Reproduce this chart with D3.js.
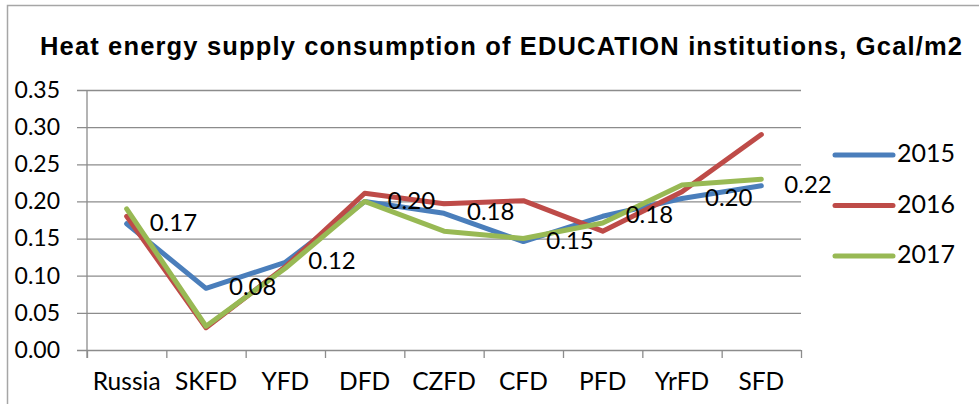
<!DOCTYPE html>
<html>
<head>
<meta charset="utf-8">
<script src="https://cdn.jsdelivr.net/npm/d3@7"></script>
<style>
  body { margin: 0; background: #fff; }
  svg { display: block; }
</style>
</head>
<body>
<svg></svg>
<script>
const width = 979
const height = 404

const categories = ['Russia', 'SKFD', 'YFD', 'DFD', 'CZFD', 'CFD', 'PFD', 'YrFD', 'SFD']
const years = ['2015', '2016', '2017']
const v2015 = [0.17, 0.083, 0.118, 0.20, 0.184, 0.146, 0.18, 0.204, 0.221]
const v2016 = [0.18, 0.03, 0.112, 0.211, 0.197, 0.201, 0.16, 0.213, 0.29]
const v2017 = [0.19, 0.032, 0.11, 0.20, 0.16, 0.15, 0.171, 0.222, 0.23]
const yTicks = [0, 0.05, 0.10, 0.15, 0.20, 0.25, 0.30, 0.35]
const colors = ['#4a7ebb', '#be4b48', '#98b954']

const plotLeft = 87
const plotRight = 801
const plotTop = 90
const plotBottom = 350

let svg = d3.select('svg')
    .attr('width', width)
    .attr('height', height)

// outer frame
svg.append('rect')
    .attr('x', 7.5).attr('y', 5.5)
    .attr('width', width + 10).attr('height', height + 10)
    .attr('fill', 'none')
    .attr('stroke', '#a6a6a6')
    .attr('stroke-width', 1.5)

svg.append('text')
    .attr('x', 501).attr('y', 55)
    .attr('text-anchor', 'middle')
    .attr('font-family', 'Liberation Sans, Arial, sans-serif')
    .attr('font-weight', 'bold')
    .attr('font-size', 25.5)
    .attr('textLength', 922)
    .attr('fill', '#000')
    .text('Heat energy supply consumption  of EDUCATION institutions, Gcal/m2')

let xScale = d3.scaleBand()
    .domain(categories)
    .range([plotLeft, plotRight])

let xEdge = d3.scaleLinear()
    .domain([0, categories.length])
    .range([plotLeft, plotRight])

let yScale = d3.scaleLinear()
    .domain([0, 0.35])
    .range([plotBottom, plotTop])

let xc = c => xScale(c) + xScale.bandwidth() / 2

// y gridlines + labels
let yAxis = svg.append('g')
    .attr('transform', 'translate(77,0)')
    .call(d3.axisLeft(yScale)
        .tickValues(yTicks)
        .tickFormat(d3.format('.2f'))
        .tickSize(-(plotRight - 77))
        .tickPadding(17))
yAxis.select('.domain').remove()
yAxis.selectAll('line').attr('stroke', '#8c8c8c').attr('stroke-width', 1.3)
yAxis.selectAll('text')
    .attr('font-family', 'Lato, sans-serif')
    .attr('font-size', 23)
    .attr('fill', '#000')

// vertical axis line
svg.append('line')
    .attr('x1', plotLeft).attr('x2', plotLeft)
    .attr('y1', plotTop).attr('y2', plotBottom + 8)
    .attr('stroke', '#8c8c8c').attr('stroke-width', 1.3)

// x tick marks at category edges
let xTicks = svg.append('g')
    .attr('transform', 'translate(0,' + plotBottom + ')')
    .call(d3.axisBottom(xEdge)
        .tickValues(d3.range(categories.length + 1))
        .tickFormat('')
        .tickSizeInner(8)
        .tickSizeOuter(0))
xTicks.select('.domain').remove()
xTicks.selectAll('line').attr('stroke', '#8c8c8c').attr('stroke-width', 1.3)

// category labels
let xAxis = svg.append('g')
    .attr('transform', 'translate(0,' + plotBottom + ')')
    .call(d3.axisBottom(xScale).tickSize(0).tickPadding(23))
xAxis.select('.domain').remove()
xAxis.selectAll('text')
    .attr('font-family', 'Lato, sans-serif')
    .attr('font-size', 24.5)
    .attr('fill', '#000')

let series = [v2015, v2016, v2017]
let line = d3.line()
    .x((d, i) => xc(categories[i]))
    .y(d => yScale(d))

series.forEach((vals, k) => {
    svg.append('path')
        .datum(vals)
        .attr('d', line)
        .attr('fill', 'none')
        .attr('stroke', colors[k])
        .attr('stroke-width', 5)
        .attr('stroke-linejoin', 'round')
        .attr('stroke-linecap', 'round')
})

// data labels for 2015
svg.append('g').selectAll('text')
    .data(v2015)
    .enter()
    .append('text')
    .attr('x', (d, i) => xc(categories[i]) + 23)
    .attr('y', d => yScale(d) + 1)
    .attr('dominant-baseline', 'middle')
    .attr('font-family', 'Lato, sans-serif')
    .attr('font-size', 24)
    .attr('fill', '#000')
    .text(d => d3.format('.2f')(d))

// legend
let legend = svg.append('g')
    .selectAll('g')
    .data(years)
    .enter()
    .append('g')
    .attr('transform', (d, i) => 'translate(835,' + (155 + i * 50.5) + ')')
legend.append('line')
    .attr('x1', 0).attr('x2', 58)
    .attr('stroke', (d, i) => colors[i])
    .attr('stroke-width', 5)
    .attr('stroke-linecap', 'round')
legend.append('text')
    .attr('x', 62)
    .attr('y', 1)
    .attr('dominant-baseline', 'middle')
    .attr('font-family', 'Lato, sans-serif')
    .attr('font-size', 25)
    .attr('fill', '#000')
    .text(d => d)
</script>
</body>
</html>
